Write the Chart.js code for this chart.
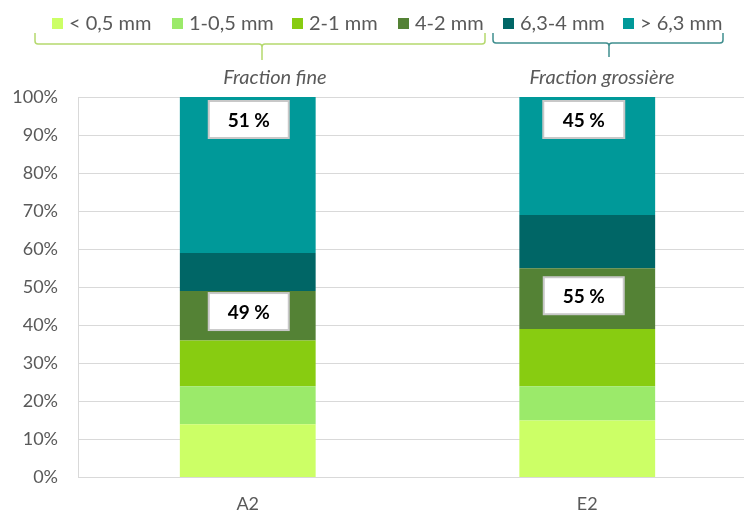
<!DOCTYPE html>
<html><head><meta charset="utf-8">
<script src="https://cdn.jsdelivr.net/npm/chart.js@4/dist/chart.umd.min.js"></script>
<style>
html,body{margin:0;padding:0;background:#fff;overflow:hidden;width:744px;height:513px}
#wrap{width:760px;height:513px;position:relative}
</style></head>
<body><div id="wrap"><canvas id="c" width="760" height="513"></canvas></div>
<script>
// ---- data ----
const categories = ['A2', 'E2'];
const sizeClasses = ['< 0,5 mm', '1-0,5 mm', '2-1 mm', '4-2 mm', '6,3-4 mm', '> 6,3 mm'];
const under05 = [14, 15];
const from05to1 = [10, 9];
const from1to2 = [12, 15];
const from2to4 = [13, 16];
const from4to63 = [10, 14];
const over63 = [41, 31];
const fractionNames = ['Fraction fine', 'Fraction grossière'];
const fineClassCount = 4; // first four size classes form the fine fraction
const yTickValues = [0, 10, 20, 30, 40, 50, 60, 70, 80, 90, 100];

// ---- styles ----
const colors = ['#CCFF66', '#9BEA6A', '#88CC11', '#548235', '#006666', '#009999'];
const GREY = '#595959';
const FONT = 'Lato, "Open Sans", sans-serif';

const seriesValues = [under05, from05to1, from1to2, from2to4, from4to63, over63];

const labelPlugin = {
  id: 'fractionLabels',
  afterDatasetsDraw(chart, args, opts) {
    const ctx = chart.ctx;
    const xs = chart.scales.x, ys = chart.scales.y;
    const ds = chart.data.datasets;
    categories.forEach((cat, i) => {
      let fine = 0, total = 0;
      ds.forEach((d, k) => { total += d.data[i]; if (k < fineClassCount) fine += d.data[i]; });
      const groups = [[fine, fine], [total, total - fine]];
      groups.forEach(([top, value], g) => {
        const o = opts.boxes[i][g];
        const cx = xs.getPixelForValue(i) + o.dx;
        const y = ys.getPixelForValue(top) + o.dy;
        const w = o.w, h = 37;
        ctx.save();
        ctx.fillStyle = '#FFFFFF';
        ctx.fillRect(cx - w / 2, y, w, h);
        ctx.strokeStyle = '#C8C8C8';
        ctx.lineWidth = 2;
        ctx.strokeRect(cx - w / 2, y, w, h);
        ctx.fillStyle = '#000000';
        ctx.font = 'bold 19px ' + FONT;
        ctx.textAlign = 'center';
        ctx.textBaseline = 'middle';
        ctx.fillText(value + ' %', cx, y + h / 2 + 1);
        ctx.restore();
      });
    });
  }
};

const legendPlugin = {
  id: 'customLegend',
  afterDraw(chart, args, opts) {
    const ctx = chart.ctx;
    ctx.save();
    chart.data.datasets.forEach((d, k) => {
      const x = opts.itemX[k];
      ctx.fillStyle = d.backgroundColor;
      ctx.fillRect(x, 18, 11, 11);
      ctx.fillStyle = GREY;
      ctx.font = '20px ' + FONT;
      ctx.textAlign = 'left';
      ctx.textBaseline = 'alphabetic';
      ctx.fillText(d.label, x + 17, 30);
    });
    // brackets
    const bracket = (l, r, c, yTop, yLine, yTip, color) => {
      ctx.beginPath();
      ctx.strokeStyle = color;
      ctx.lineWidth = 1.5;
      ctx.moveTo(l, yTop);
      ctx.lineTo(l, yLine - 3);
      ctx.quadraticCurveTo(l, yLine, l + 3, yLine);
      ctx.lineTo(c - 3, yLine);
      ctx.quadraticCurveTo(c, yLine, c, yLine + 3);
      ctx.lineTo(c, yTip);
      ctx.moveTo(c, yLine + 3);
      ctx.quadraticCurveTo(c, yLine, c + 3, yLine);
      ctx.lineTo(r - 3, yLine);
      ctx.quadraticCurveTo(r, yLine, r, yLine - 3);
      ctx.lineTo(r, yTop);
      ctx.stroke();
    };
    bracket(35, 485, 262, 33, 44, 60, '#B5D96E');
    bracket(493, 723, 609, 33, 43, 57, '#3F8E8E');
    // fraction titles
    ctx.fillStyle = GREY;
    ctx.font = 'italic 20px ' + FONT;
    ctx.textAlign = 'center';
    ctx.fillText(fractionNames[0], 275, 84);
    ctx.fillText(fractionNames[1], 602, 84);
    ctx.restore();
  }
};

new Chart(document.getElementById('c'), {
  type: 'bar',
  data: {
    labels: categories,
    datasets: sizeClasses.map((name, k) => ({
      label: name,
      data: seriesValues[k],
      backgroundColor: colors[k],
      borderWidth: 0,
      barPercentage: 0.4,
      categoryPercentage: 1.0
    }))
  },
  options: {
    responsive: false,
    devicePixelRatio: 1,
    animation: false,
    layout: { padding: { top: 97, left: 0, right: 3, bottom: 0 } },
    plugins: {
      legend: { display: false },
      tooltip: { enabled: false },
      customLegend: { itemX: [52, 172, 292, 398, 503, 623] },
      fractionLabels: {
        boxes: [
          [{ dx: 1, dy: 2, w: 80 }, { dx: 1, dy: 4, w: 80 }],
          [{ dx: -3.5, dy: 9, w: 80 }, { dx: -3.5, dy: 4, w: 81 }]
        ]
      }
    },
    scales: {
      x: {
        stacked: true,
        grid: { display: false },
        border: { display: false },
        ticks: { color: GREY, font: { family: FONT, size: 18 }, padding: 8 },
        afterFit: (s) => { s.height = 35.5; }
      },
      y: {
        stacked: true,
        min: 0, max: 100,
        afterBuildTicks: (s) => { s.ticks = yTickValues.map(v => ({ value: v })); },
        ticks: { color: GREY, font: { family: FONT, size: 18 }, padding: 20, callback: (v) => v + '%' },
        grid: { color: '#D9D9D9', lineWidth: 1, drawTicks: false },
        border: { color: '#D9D9D9', width: 1 },
        afterFit: (s) => { s.width = 78; }
      }
    }
  },
  plugins: [labelPlugin, legendPlugin]
});
</script>
</body></html>
